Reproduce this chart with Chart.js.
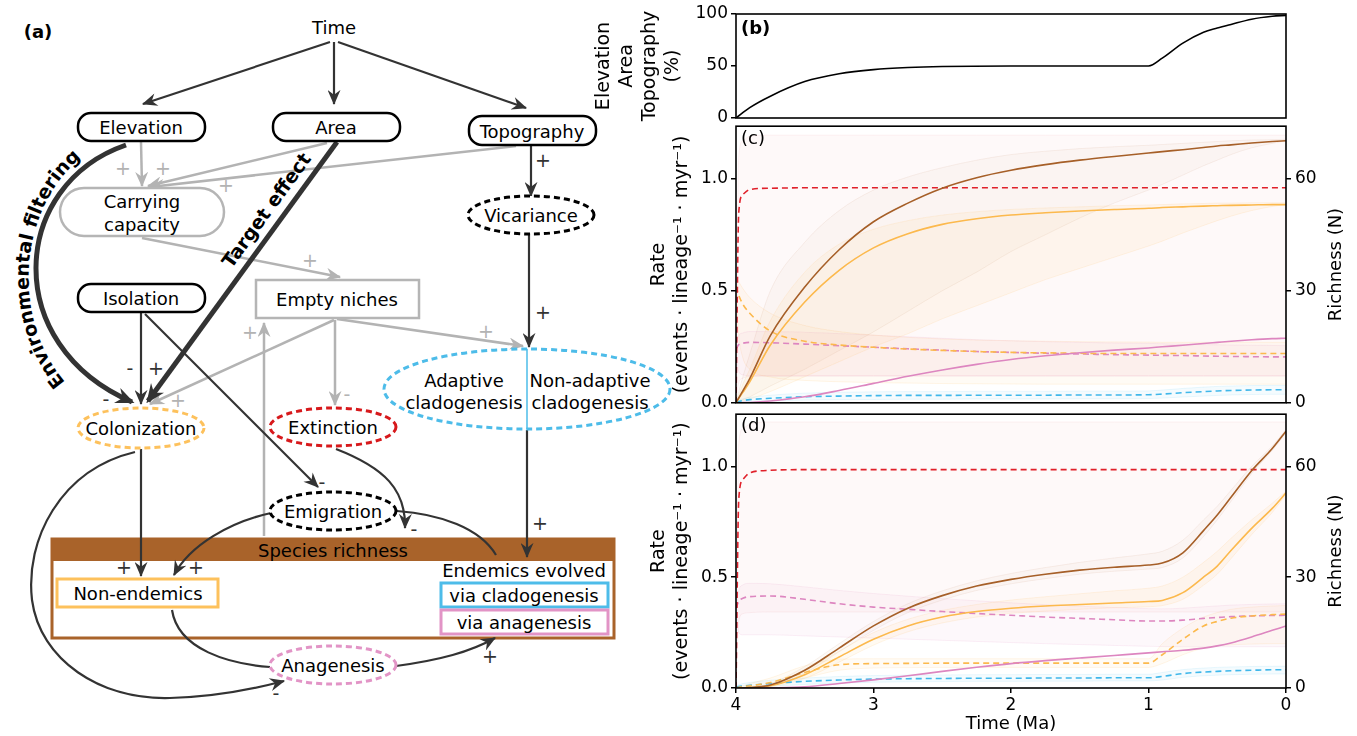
<!DOCTYPE html>
<html>
<head>
<meta charset="utf-8">
<script src="https://cdn.jsdelivr.net/npm/chart.js@4"></script>
<style>
body { margin: 0; width: 1357px; height: 736px; background: #fff; position: relative; overflow: hidden; }
canvas, svg { position: absolute; }
</style>
</head>
<body>

<svg id="diagram" width="700" height="736" style="left:0;top:0" font-family="DejaVu Sans, sans-serif" font-size="18">
  <defs>
    <marker id="ad" viewBox="0 0 14 12" refX="13" refY="6" markerWidth="16" markerHeight="13" markerUnits="userSpaceOnUse" orient="auto">
      <path d="M0,0 L14,6 L0,12 L4.5,6 z" fill="#333"/>
    </marker>
    <marker id="ag" viewBox="0 0 14 12" refX="13" refY="6" markerWidth="16" markerHeight="13" markerUnits="userSpaceOnUse" orient="auto">
      <path d="M0,0 L14,6 L0,12 L4.5,6 z" fill="#b3b3b3"/>
    </marker>
    <marker id="adb" viewBox="0 0 14 12" refX="12" refY="6" markerWidth="19" markerHeight="17" markerUnits="userSpaceOnUse" orient="auto">
      <path d="M0,0 L14,6 L0,12 L4.5,6 z" fill="#333"/>
    </marker>
    <path id="efp" d="M 98,410 C 0,352 5,180 118,136" fill="none"/>
  </defs>

  <text x="38" y="31" font-weight="bold" text-anchor="middle" dominant-baseline="central">(a)</text>
  <text x="334" y="27" text-anchor="middle" dominant-baseline="central">Time</text>

  <!-- species richness box (under the links) -->
  <rect x="52" y="539" width="562" height="99" fill="#fff" stroke="#a9632a" stroke-width="3"/>
  <rect x="52" y="539" width="562" height="22" fill="#a9632a"/>
  <rect x="57" y="579" width="161" height="28" fill="#fff" stroke="#fdc15c" stroke-width="3"/>
  <rect x="441" y="583" width="167" height="24" fill="#fff" stroke="#4dbce9" stroke-width="3"/>
  <rect x="441" y="610" width="167" height="24" fill="#fff" stroke="#e294c6" stroke-width="3"/>

  <!-- grey links -->
  <g stroke="#b3b3b3" stroke-width="2.5" fill="none">
    <line x1="141" y1="142" x2="142" y2="186" marker-end="url(#ag)"/>
    <line x1="327" y1="143" x2="148" y2="186" marker-end="url(#ag)"/>
    <line x1="516" y1="146" x2="150" y2="187" marker-end="url(#ag)"/>
    <line x1="142" y1="238" x2="340" y2="277" marker-end="url(#ag)"/>
    <line x1="334" y1="320" x2="150" y2="404" marker-end="url(#ag)"/>
    <line x1="335" y1="320" x2="335" y2="405" marker-end="url(#ag)"/>
    <line x1="337" y1="319" x2="523" y2="346" marker-end="url(#ag)"/>
    <line x1="264" y1="536" x2="264" y2="323" marker-end="url(#ag)"/>
  </g>

  <!-- dark links -->
  <g stroke="#333" stroke-width="2.2" fill="none">
    <line x1="330" y1="42" x2="143" y2="104" marker-end="url(#ad)"/>
    <line x1="334" y1="42" x2="334" y2="104" marker-end="url(#ad)"/>
    <line x1="338" y1="42" x2="526" y2="108" marker-end="url(#ad)"/>
    <line x1="531" y1="145" x2="531" y2="196" marker-end="url(#ad)"/>
    <line x1="529" y1="234" x2="529" y2="347" marker-end="url(#ad)"/>
    <line x1="141" y1="313" x2="141" y2="404" marker-end="url(#ad)"/>
    <line x1="145" y1="314" x2="318" y2="487" marker-end="url(#ad)"/>
    <line x1="141" y1="449" x2="141" y2="576" marker-end="url(#ad)"/>
    <line x1="527" y1="430" x2="527" y2="557" marker-end="url(#ad)"/>
    <path d="M336,449 C385,468 406,490 405,528" marker-end="url(#ad)"/>
    <path d="M271,513 C230,522 190,545 174,575" marker-end="url(#ad)"/>
    <path d="M397,511 C440,514 480,528 496,555"/>
    <path d="M172,610 C178,650 230,664 270,667"/>
    <path d="M396,666 C440,660 470,652 495,638" marker-end="url(#ad)"/>
    <path d="M135,452 C60,470 25,540 32,600 C40,660 100,700 170,698 C210,697 250,690 284,681" marker-end="url(#ad)"/>
  </g>

  <!-- thick effects -->
  <g stroke="#333" stroke-width="5" fill="none">
    <line x1="337" y1="142" x2="148" y2="401" marker-end="url(#adb)"/>
    <path d="M126,145 C10,185 0,345 132,402" marker-end="url(#adb)"/>
  </g>
  <text font-weight="bold" font-size="19"><textPath href="#efp" startOffset="50%" text-anchor="middle">Environmental filtering</textPath></text>
  <text transform="translate(266,210) rotate(-54)" font-weight="bold" font-size="19" text-anchor="middle" dominant-baseline="central">Target effect</text>

  <!-- nodes -->
  <g stroke-width="2.5" fill="#fff">
    <rect x="78" y="113" width="127" height="28" rx="13" stroke="#000"/>
    <rect x="273" y="113" width="127" height="28" rx="13" stroke="#000"/>
    <rect x="469" y="116" width="127" height="29" rx="13" stroke="#000"/>
    <rect x="60" y="188" width="164" height="48" rx="24" stroke="#b5b5b5"/>
    <rect x="78" y="284" width="127" height="28" rx="13" stroke="#000"/>
    <rect x="256" y="280" width="163" height="38" stroke="#b5b5b5"/>
  </g>
  <g fill="#fff" stroke-width="3" stroke-dasharray="6 4">
    <ellipse cx="531" cy="215" rx="63" ry="19" stroke="#000"/>
    <ellipse cx="527" cy="389" rx="143" ry="40" stroke="#4dbce9"/>
    <ellipse cx="141" cy="428" rx="63" ry="20" stroke="#fdc15c"/>
    <ellipse cx="333" cy="427" rx="63" ry="19" stroke="#d7191c"/>
    <ellipse cx="333" cy="511" rx="63" ry="19" stroke="#000"/>
    <ellipse cx="333" cy="665" rx="63" ry="19" stroke="#e294c6"/>
  </g>
  <line x1="527" y1="349" x2="527" y2="429" stroke="#4dbce9" stroke-width="1.5"/>

  <g text-anchor="middle" dominant-baseline="central" fill="#000">
    <text x="141" y="127">Elevation</text>
    <text x="336" y="127">Area</text>
    <text x="532" y="131">Topography</text>
    <text x="142" y="201">Carrying</text>
    <text x="142" y="224">capacity</text>
    <text x="531" y="215">Vicariance</text>
    <text x="141" y="298">Isolation</text>
    <text x="337" y="299">Empty niches</text>
    <text x="464" y="380">Adaptive</text>
    <text x="464" y="402">cladogenesis</text>
    <text x="590" y="380">Non-adaptive</text>
    <text x="590" y="402">cladogenesis</text>
    <text x="141" y="428">Colonization</text>
    <text x="333" y="427">Extinction</text>
    <text x="333" y="511">Emigration</text>
    <text x="333" y="550">Species richness</text>
    <text x="138" y="593">Non-endemics</text>
    <text x="524" y="570">Endemics evolved</text>
    <text x="524" y="595">via cladogenesis</text>
    <text x="524" y="622">via anagenesis</text>
    <text x="333" y="665">Anagenesis</text>
  </g>

  <!-- signs -->
  <g text-anchor="middle" dominant-baseline="central" fill="#333" font-size="19">
    <text x="543" y="160">+</text>
    <text x="543" y="312">+</text>
    <text x="156" y="368">+</text>
    <text x="124" y="567">+</text>
    <text x="196" y="567">+</text>
    <text x="540" y="523">+</text>
    <text x="490" y="656">+</text>
    <text x="130" y="368">-</text>
    <text x="106" y="399">-</text>
    <text x="322" y="482">-</text>
    <text x="414" y="529">-</text>
    <text x="276" y="693">-</text>
  </g>
  <g text-anchor="middle" dominant-baseline="central" fill="#b3b3b3" font-size="19">
    <text x="123" y="168">+</text>
    <text x="163" y="168">+</text>
    <text x="226" y="185">+</text>
    <text x="310" y="260">+</text>
    <text x="178" y="400">+</text>
    <text x="250" y="332">+</text>
    <text x="486" y="331">+</text>
    <text x="347" y="394">-</text>
  </g>
</svg>

<canvas id="cb" width="767" height="132" style="left:590px;top:0px"></canvas>
<canvas id="cc" width="767" height="305" style="left:590px;top:112px"></canvas>
<canvas id="cd" width="767" height="336" style="left:590px;top:400px"></canvas>

<script>
// time grid (Ma)
const timeB = [4, 3.9, 3.75, 3.5, 3.25, 3.0, 2.75, 2.5, 2.0, 1.5, 1.0, 0.9, 0.75, 0.6, 0.5, 0.4, 0.25, 0.1, 0];
const topography = [0, 10, 21, 35, 42.5, 46.5, 48.5, 49.5, 50, 50, 50, 57.5, 72, 82.5, 86.5, 90, 95, 97.8, 98.7];

const T = [4, 3.98, 3.95, 3.9, 3.75, 3.5, 3.25, 3.0, 2.75, 2.5, 2.25, 2.0, 1.75, 1.5, 1.25, 1.0, 0.9, 0.75, 0.6, 0.5, 0.4, 0.25, 0.1, 0];

// panel (c) - richness (N)
const cTotal   = [0, 1.3, 3.2, 6.5, 18, 31, 41, 48.5, 53.5, 57.5, 60.3, 62.3, 63.8, 65, 66, 66.9, 67.3, 67.8, 68.4, 68.8, 69.1, 69.6, 70, 70.2];
const cTotalHi = [0, 3, 7, 13, 30, 43, 51.5, 57, 60.5, 63, 65, 66.5, 67.4, 68.1, 68.6, 69, 69.2, 69.5, 69.8, 70, 70.2, 70.4, 70.5, 70.6];
const cTotalLo = [0, 0.3, 0.8, 1.6, 4.5, 9, 14, 19, 24.5, 30, 35, 40.5, 45, 49.5, 53.5, 57, 58.5, 61, 63.5, 65, 66.5, 68.3, 69.5, 70.2];
const cNonEnd   = [0, 1.2, 2.8, 5.6, 15.5, 27, 35.5, 41.5, 45.3, 47.8, 49.3, 50.3, 50.9, 51.4, 51.8, 52.1, 52.3, 52.5, 52.7, 52.8, 52.9, 53, 53.1, 53.1];
const cNonEndHi = [0, 2, 5, 9, 22, 35, 42.5, 46.5, 48.8, 50.3, 51.2, 51.8, 52.2, 52.5, 52.8, 53, 53.1, 53.3, 53.4, 53.5, 53.5, 53.6, 53.6, 53.6];
const cNonEndLo = [0, 0.2, 0.5, 1, 3, 7, 11, 15, 18.5, 22.5, 26, 29.5, 33, 36, 39, 42, 43.3, 45.5, 47.5, 48.8, 50, 51.5, 52.6, 53.1];
const cAnaEnd   = [0, 0, 0.05, 0.1, 0.5, 1.6, 3.3, 5.2, 7.1, 8.8, 10.3, 11.6, 12.6, 13.4, 14.1, 14.7, 15, 15.4, 15.9, 16.2, 16.5, 16.9, 17.2, 17.3];
// panel (c) - rates
const cExt   = [0, 0.85, 0.93, 0.952, 0.958, 0.96, 0.96, 0.96, 0.96, 0.96, 0.96, 0.96, 0.96, 0.96, 0.96, 0.96, 0.96, 0.96, 0.96, 0.96, 0.96, 0.96, 0.96, 0.96];
const cExtHi = [0, 1.1, 1.17, 1.19, 1.195, 1.195, 1.195, 1.195, 1.195, 1.195, 1.195, 1.195, 1.195, 1.195, 1.195, 1.195, 1.195, 1.195, 1.195, 1.195, 1.195, 1.195, 1.195, 1.195];
const cExtLo = [0, 0.09, 0.11, 0.118, 0.12, 0.12, 0.12, 0.12, 0.12, 0.12, 0.12, 0.12, 0.12, 0.12, 0.12, 0.12, 0.12, 0.12, 0.12, 0.12, 0.12, 0.12, 0.12, 0.12];
const cCol   = [0.52, 0.48, 0.44, 0.4, 0.32, 0.275, 0.258, 0.248, 0.24, 0.234, 0.229, 0.225, 0.223, 0.221, 0.22, 0.22, 0.22, 0.22, 0.22, 0.22, 0.22, 0.22, 0.22, 0.22];
const cColHi = [0.56, 0.54, 0.51, 0.47, 0.4, 0.345, 0.318, 0.302, 0.292, 0.285, 0.28, 0.277, 0.275, 0.273, 0.272, 0.271, 0.27, 0.27, 0.27, 0.27, 0.27, 0.27, 0.27, 0.27];
const cColLo = [0.48, 0.3, 0.2, 0.15, 0.115, 0.1, 0.094, 0.09, 0.088, 0.086, 0.085, 0.084, 0.083, 0.083, 0.083, 0.083, 0.083, 0.083, 0.083, 0.083, 0.083, 0.083, 0.083, 0.083];
const cAna   = [0.24, 0.26, 0.266, 0.27, 0.268, 0.262, 0.255, 0.248, 0.241, 0.235, 0.229, 0.225, 0.221, 0.218, 0.215, 0.213, 0.212, 0.211, 0.209, 0.208, 0.207, 0.206, 0.205, 0.205];
const cAnaHi = [0.26, 0.3, 0.312, 0.318, 0.318, 0.315, 0.309, 0.302, 0.295, 0.288, 0.282, 0.277, 0.273, 0.27, 0.267, 0.265, 0.264, 0.262, 0.26, 0.259, 0.258, 0.257, 0.256, 0.255];
const cAnaLo = [0.22, 0.14, 0.125, 0.12, 0.12, 0.12, 0.12, 0.12, 0.12, 0.12, 0.12, 0.12, 0.12, 0.12, 0.12, 0.12, 0.12, 0.12, 0.12, 0.12, 0.12, 0.12, 0.12, 0.12];
const cClad   = [0.003, 0.006, 0.01, 0.014, 0.02, 0.027, 0.03, 0.032, 0.033, 0.033, 0.034, 0.034, 0.034, 0.035, 0.035, 0.036, 0.039, 0.045, 0.05, 0.053, 0.055, 0.057, 0.058, 0.058];
const cCladHi = [0.006, 0.012, 0.018, 0.024, 0.034, 0.043, 0.047, 0.049, 0.05, 0.05, 0.051, 0.051, 0.051, 0.052, 0.052, 0.053, 0.057, 0.064, 0.07, 0.073, 0.075, 0.077, 0.078, 0.078];
const cCladLo = [0, 0.001, 0.003, 0.005, 0.008, 0.012, 0.014, 0.015, 0.016, 0.016, 0.017, 0.017, 0.017, 0.018, 0.018, 0.019, 0.021, 0.026, 0.03, 0.033, 0.035, 0.037, 0.038, 0.038];

// panel (d) - richness (N)
const dTotal   = [0, 0, 0, 0.1, 0.8, 4.8, 10.8, 16.8, 21.6, 25, 27.6, 29.4, 30.8, 31.9, 32.7, 33.3, 33.8, 36.6, 42.6, 46.8, 51.6, 58.8, 64.8, 69.5];
const dTotalHi = [0, 0, 0.05, 0.2, 1.2, 5.8, 12, 18, 22.8, 26.3, 29, 31, 32.6, 34, 35.2, 36.3, 37, 40, 45.5, 49.2, 53.5, 60, 65.5, 70];
const dTotalLo = [0, 0, 0, 0.05, 0.5, 4, 9.8, 15.6, 20.4, 23.8, 26.4, 28.2, 29.6, 30.8, 31.6, 32.2, 32.6, 35.2, 41, 45.5, 50.5, 58, 64.3, 69];
const dNonEnd   = [0, 0, 0, 0.1, 0.6, 3.6, 8.4, 13.2, 16.8, 19.2, 20.7, 21.6, 22.2, 22.6, 23, 23.4, 23.7, 25.8, 30, 33, 37.2, 43.2, 48.6, 52.8];
const dNonEndHi = [0, 0, 0.05, 0.2, 1, 4.8, 10, 15, 18.6, 21, 22.6, 23.8, 24.7, 25.5, 26.3, 27, 27.6, 30, 34, 37, 40.5, 45.5, 50, 53.3];
const dNonEndLo = [0, 0, 0, 0.05, 0.3, 2.6, 7, 11.6, 15.2, 17.6, 19.2, 20.2, 20.8, 21.3, 21.7, 22, 22.3, 24, 27.8, 30.8, 35, 41.5, 47.5, 52.3];
const dAnaEnd   = [0, 0, 0, 0, 0.05, 0.3, 1.2, 2.2, 3.3, 4.5, 5.6, 6.6, 7.4, 8.1, 8.8, 9.5, 9.8, 10.2, 10.8, 11.4, 12.2, 13.8, 15.6, 16.8];
// panel (d) - rates
const dExt   = [0, 0.85, 0.94, 0.97, 0.982, 0.985, 0.985, 0.985, 0.985, 0.985, 0.985, 0.985, 0.985, 0.985, 0.985, 0.985, 0.985, 0.985, 0.985, 0.985, 0.985, 0.985, 0.985, 0.985];
const dExtHi = [0, 1.1, 1.17, 1.19, 1.2, 1.2, 1.2, 1.2, 1.2, 1.2, 1.2, 1.2, 1.2, 1.2, 1.2, 1.2, 1.2, 1.2, 1.2, 1.2, 1.2, 1.2, 1.2, 1.2];
const dExtLo = [0, 0.3, 0.335, 0.34, 0.343, 0.343, 0.343, 0.343, 0.343, 0.343, 0.343, 0.343, 0.343, 0.343, 0.343, 0.343, 0.343, 0.343, 0.343, 0.343, 0.343, 0.343, 0.343, 0.343];
const dAna   = [0.36, 0.39, 0.405, 0.412, 0.415, 0.4, 0.38, 0.365, 0.355, 0.345, 0.336, 0.328, 0.32, 0.314, 0.308, 0.302, 0.302, 0.306, 0.314, 0.318, 0.322, 0.325, 0.327, 0.328];
const dAnaHi = [0.36, 0.44, 0.465, 0.472, 0.47, 0.456, 0.44, 0.426, 0.414, 0.403, 0.393, 0.384, 0.376, 0.369, 0.363, 0.358, 0.357, 0.36, 0.366, 0.37, 0.374, 0.377, 0.379, 0.38];
const dAnaLo = [0.36, 0.25, 0.24, 0.24, 0.24, 0.235, 0.23, 0.225, 0.22, 0.215, 0.21, 0.205, 0.2, 0.196, 0.192, 0.188, 0.187, 0.186, 0.186, 0.186, 0.186, 0.186, 0.186, 0.186];
const dCol   = [0, 0.003, 0.006, 0.01, 0.025, 0.07, 0.105, 0.11, 0.111, 0.112, 0.112, 0.112, 0.112, 0.112, 0.112, 0.112, 0.15, 0.22, 0.28, 0.3, 0.315, 0.325, 0.331, 0.333];
const dColHi = [0, 0.005, 0.01, 0.02, 0.045, 0.1, 0.13, 0.132, 0.132, 0.132, 0.132, 0.132, 0.132, 0.132, 0.132, 0.132, 0.2, 0.27, 0.32, 0.34, 0.355, 0.365, 0.37, 0.372];
const dColLo = [0, 0, 0.002, 0.005, 0.012, 0.045, 0.08, 0.09, 0.092, 0.093, 0.093, 0.093, 0.093, 0.093, 0.093, 0.093, 0.11, 0.15, 0.18, 0.19, 0.195, 0.198, 0.2, 0.2];
const dClad   = [0.005, 0.007, 0.009, 0.012, 0.02, 0.03, 0.036, 0.04, 0.042, 0.043, 0.044, 0.044, 0.045, 0.045, 0.046, 0.046, 0.052, 0.065, 0.072, 0.075, 0.078, 0.08, 0.082, 0.082];
const dCladHi = [0.01, 0.015, 0.02, 0.025, 0.035, 0.045, 0.052, 0.056, 0.058, 0.059, 0.06, 0.06, 0.061, 0.061, 0.062, 0.062, 0.07, 0.083, 0.09, 0.093, 0.095, 0.097, 0.098, 0.098];
const dCladLo = [0, 0.001, 0.002, 0.004, 0.008, 0.016, 0.022, 0.026, 0.028, 0.029, 0.03, 0.03, 0.031, 0.031, 0.032, 0.032, 0.036, 0.048, 0.055, 0.058, 0.06, 0.062, 0.063, 0.063];

const timeTicks = [4, 3, 2, 1, 0];

const BROWN = '#a65f28', ORANGE = '#fcb94d', PINK = '#dd86c0', RED = '#e0202a', BLUE = '#3fb7ea';
const TICK_FONT = { family: "'DejaVu Sans'", size: 17 };
const TITLE_FONT = { family: "'DejaVu Sans'", size: 19 };

function pts(xs, ys) {
    return xs.map((t, i) => ({ x: t, y: ys[i] }));
}

function line(ys, color, axis, dashed) {
    return {
        data: pts(T, ys), borderColor: color, borderWidth: 1.6, yAxisID: axis,
        borderDash: dashed ? [6, 4] : [], pointRadius: 0, fill: false,
        cubicInterpolationMode: 'monotone', order: 0
    };
}

// two datasets, the upper one filled down to the next one
function band(hi, lo, fillColor, edgeColor, axis) {
    const common = { borderColor: edgeColor, borderWidth: 1, pointRadius: 0, yAxisID: axis, cubicInterpolationMode: 'monotone', order: 5 };
    return [
        Object.assign({ data: pts(T, hi), fill: '+1', backgroundColor: fillColor }, common),
        Object.assign({ data: pts(T, lo), fill: false }, common)
    ];
}

const framePlugin = {
    id: 'frame',
    afterDraw(chart, args, opts) {
        const { ctx, chartArea: a } = chart;
        ctx.save();
        ctx.strokeStyle = '#000';
        ctx.lineWidth = 1.6;
        ctx.strokeRect(a.left, a.top, a.right - a.left, a.bottom - a.top);
        ctx.fillStyle = '#000';
        if (opts.label) {
            ctx.font = opts.labelFont;
            ctx.textBaseline = 'top';
            ctx.fillText(opts.label, a.left + 5, a.top + opts.labelY);
        }
        if (opts.rightTitle) {
            ctx.translate(a.right + 50, (a.top + a.bottom) / 2);
            ctx.rotate(-Math.PI / 2);
            ctx.textAlign = 'center';
            ctx.textBaseline = 'middle';
            ctx.font = "18px 'DejaVu Sans'";
            ctx.fillText(opts.rightTitle, 0, 0);
        }
        ctx.restore();
    }
};

function tickGrid() {
    return { display: true, drawOnChartArea: false, drawTicks: true, tickLength: 5, color: '#000', lineWidth: 1.5 };
}

function xAxis(show) {
    const ax = {
        type: 'linear', min: 0, max: 4, reverse: true, display: show,
        grid: tickGrid(), border: { display: false },
        afterBuildTicks: s => { s.ticks = timeTicks.map(v => ({ value: v })); },
        ticks: { font: TICK_FONT, color: '#000', padding: 2, maxRotation: 0, callback: v => String(v) },
        title: { display: show, text: 'Time (Ma)', font: { family: "'DejaVu Sans'", size: 18 }, color: '#000', padding: { top: 0, bottom: 1 } }
    };
    if (show) ax.afterFit = s => { s.height = 48; };
    return ax;
}

function rateAxis() {
    return {
        position: 'left', min: 0, max: 1.235,
        grid: tickGrid(), border: { display: false },
        ticks: { stepSize: 0.5, includeBounds: false, font: TICK_FONT, color: '#000', padding: 3, callback: v => v.toFixed(1) },
        title: { display: true, text: ['Rate', '(events \u00b7 lineage\u207b\u00b9 \u00b7 myr\u207b\u00b9)'], font: TITLE_FONT, color: '#000', padding: { top: 58, bottom: 0 } },
        afterFit: s => { s.width = 146; }
    };
}

function richAxis() {
    return {
        position: 'right', min: 0, max: 74.1,
        grid: tickGrid(), border: { display: false },
        ticks: { stepSize: 30, includeBounds: false, font: TICK_FONT, color: '#000', padding: 4 },
        afterFit: s => { s.width = 71; }
    };
}

// (b) landscape change
new Chart(document.getElementById('cb'), {
    type: 'line',
    data: { datasets: [{ data: pts(timeB, topography), borderColor: '#000', borderWidth: 1.6, pointRadius: 0, cubicInterpolationMode: 'monotone', fill: false }] },
    options: {
        responsive: false, animation: false,
        layout: { padding: { top: 14, bottom: 14, right: 71, left: 0 } },
        plugins: { legend: { display: false }, tooltip: { enabled: false },
            frame: { label: '(b)', labelFont: "bold 18px 'DejaVu Sans'", labelY: 6 } },
        scales: {
            x: xAxis(false),
            y: {
                min: 0, max: 100, grid: tickGrid(), border: { display: false },
                ticks: { stepSize: 50, font: TICK_FONT, color: '#000', padding: 3 },
                title: { display: true, text: ['Elevation', 'Area', 'Topography', '(%)'], font: { family: "'DejaVu Sans'", size: 19, lineHeight: 1.2 }, color: '#000', padding: { top: 3, bottom: 0 } },
                afterFit: s => { s.width = 146; }
            }
        }
    },
    plugins: [framePlugin]
});

function rateChart(id, label, labelY, s) {
    const datasets = [
        line(s.total, BROWN, 'y2', false),
        line(s.nonEnd, ORANGE, 'y2', false),
        line(s.anaEnd, PINK, 'y2', false),
        line(s.ext, RED, 'y', true),
        line(s.col, ORANGE, 'y', true),
        line(s.ana, PINK, 'y', true),
        line(s.clad, BLUE, 'y', true),
        ...band(s.extHi, s.extLo, 'rgba(235,140,140,0.05)', 'rgba(230,150,160,0.12)', 'y'),
        ...band(s.totalHi, s.totalLo, 'rgba(180,120,70,0.04)', 'rgba(166,95,40,0.08)', 'y2'),
        ...band(s.nonEndHi, s.nonEndLo, 'rgba(252,185,77,0.07)', 'rgba(252,185,77,0.12)', 'y2'),
        ...band(s.anaHi, s.anaLo, 'rgba(221,134,192,0.06)', 'rgba(221,134,192,0.12)', 'y'),
        ...band(s.colHi, s.colLo, 'rgba(252,185,77,0.06)', 'rgba(252,185,77,0.12)', 'y'),
        ...band(s.cladHi, s.cladLo, 'rgba(63,183,234,0.06)', 'rgba(63,183,234,0.1)', 'y')
    ];
    const showX = id === 'cd';
    return new Chart(document.getElementById(id), {
        type: 'line',
        data: { datasets },
        options: {
            responsive: false, animation: false,
            layout: { padding: { top: 12, bottom: showX ? 0 : 14, right: 0, left: 0 } },
            plugins: { legend: { display: false }, tooltip: { enabled: false },
                frame: { label, labelFont: "18px 'DejaVu Sans'", labelY, rightTitle: 'Richness (N)' } },
            scales: { x: xAxis(showX), y: rateAxis(), y2: richAxis() }
        },
        plugins: [framePlugin]
    });
}

rateChart('cc', '(c)', 4, {
    total: cTotal, totalHi: cTotalHi, totalLo: cTotalLo,
    nonEnd: cNonEnd, nonEndHi: cNonEndHi, nonEndLo: cNonEndLo, anaEnd: cAnaEnd,
    ext: cExt, extHi: cExtHi, extLo: cExtLo, col: cCol, colHi: cColHi, colLo: cColLo,
    ana: cAna, anaHi: cAnaHi, anaLo: cAnaLo, clad: cClad, cladHi: cCladHi, cladLo: cCladLo
});

rateChart('cd', '(d)', 3, {
    total: dTotal, totalHi: dTotalHi, totalLo: dTotalLo,
    nonEnd: dNonEnd, nonEndHi: dNonEndHi, nonEndLo: dNonEndLo, anaEnd: dAnaEnd,
    ext: dExt, extHi: dExtHi, extLo: dExtLo, col: dCol, colHi: dColHi, colLo: dColLo,
    ana: dAna, anaHi: dAnaHi, anaLo: dAnaLo, clad: dClad, cladHi: dCladHi, cladLo: dCladLo
});
</script>
</body>
</html>
